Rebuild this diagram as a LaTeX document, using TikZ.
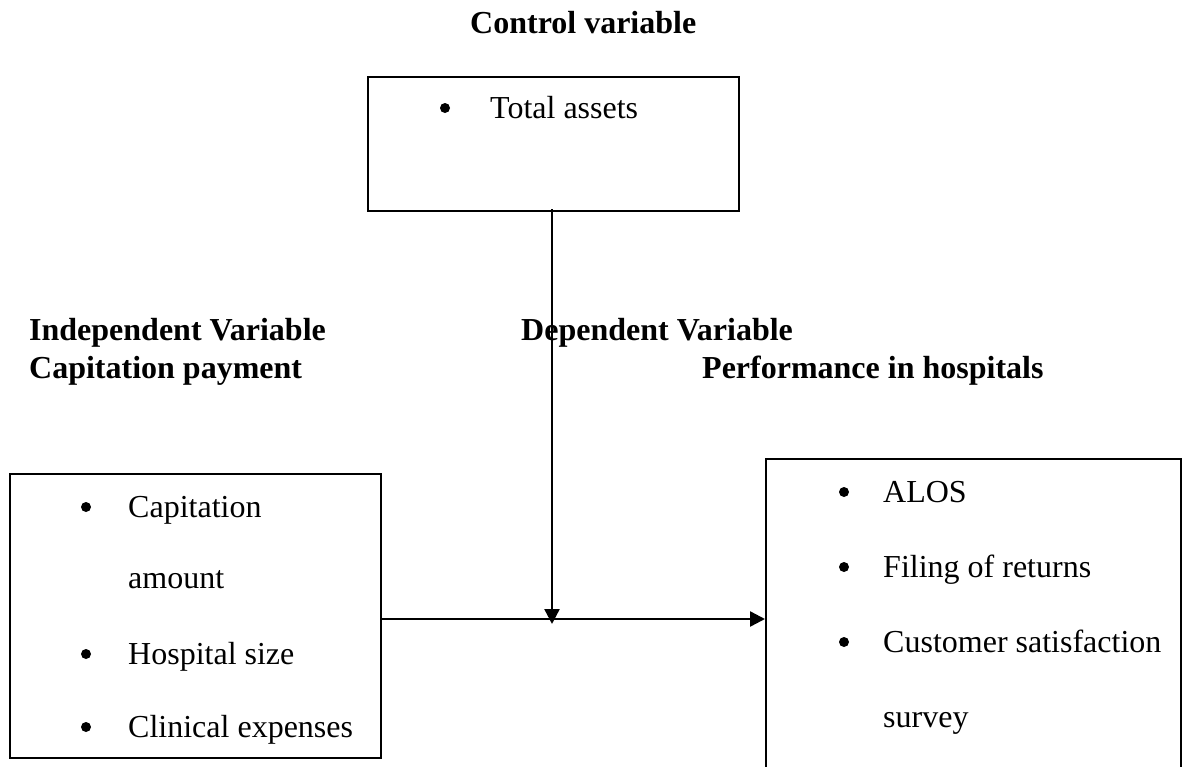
\documentclass[tikz,border=0pt]{standalone}
\usepackage{fontspec}
\setmainfont{Liberation Serif}
\usetikzlibrary{arrows.meta}
\tikzset{
  box/.style={draw, line width=2pt, rectangle, inner sep=0pt},
  head/.style={anchor=base west, inner sep=0pt, font=\fontsize{32}{38}\selectfont\bfseries},
  item/.style={anchor=base west, inner sep=0pt, font=\fontsize{32}{38}\selectfont},
  dot/.style={circle, fill, inner sep=0pt, minimum size=10pt},
  conn/.style={line width=2.4pt, -{Triangle[length=15pt,width=15pt]}}
}
\begin{document}
\begin{tikzpicture}[x=1pt,y=-1pt]
\clip (0,0) rectangle (1183,766);
\useasboundingbox (0,0) rectangle (1183,766);
% boxes
\node[box, minimum width=371pt, minimum height=134pt] (ctrl) at (553.5,144) {};
\node[box, minimum width=371pt, minimum height=284pt] (indep) at (195.5,616) {};
\node[box, minimum width=415pt, minimum height=320pt] (dep) at (973.5,619) {};
% headings
\node[head] (hc) at (470,33) {Control variable};
\node[head] (hi) at (29,340) {Independent Variable};
\node[head] (hcp) at (29,378) {Capitation payment};
\node[head] (hd) at (521,340) {Dependent Variable};
\node[head] (hp) at (702,378) {Performance in hospitals};
% control box items
\node[dot] (b0) at (445,108) {};
\node[item] (t0) at (490,118) {Total assets};
% left box items
\node[dot] (b1) at (86,507) {};
\node[item] (t1) at (128,517) {Capitation};
\node[item] (t1b) at (128,588) {amount};
\node[dot] (b2) at (86,654) {};
\node[item] (t2) at (128,664) {Hospital size};
\node[dot] (b3) at (86,727) {};
\node[item] (t3) at (128,737) {Clinical expenses};
% right box items
\node[dot] (b4) at (844,492) {};
\node[item] (t4) at (883,502) {ALOS};
\node[dot] (b5) at (844,567) {};
\node[item] (t5) at (883,577) {Filing of returns};
\node[dot] (b6) at (844,642) {};
\node[item] (t6) at (883,652) {Customer satisfaction};
\node[item] (t6b) at (883,727) {survey};
% connectors
\coordinate (meet) at (552,624);
\draw[conn] (indep.east |- 0,619) -- (dep.west |- 0,619);
\draw[conn] (ctrl.south -| meet) ++(0,-3) -- (meet);
\end{tikzpicture}
\end{document}
